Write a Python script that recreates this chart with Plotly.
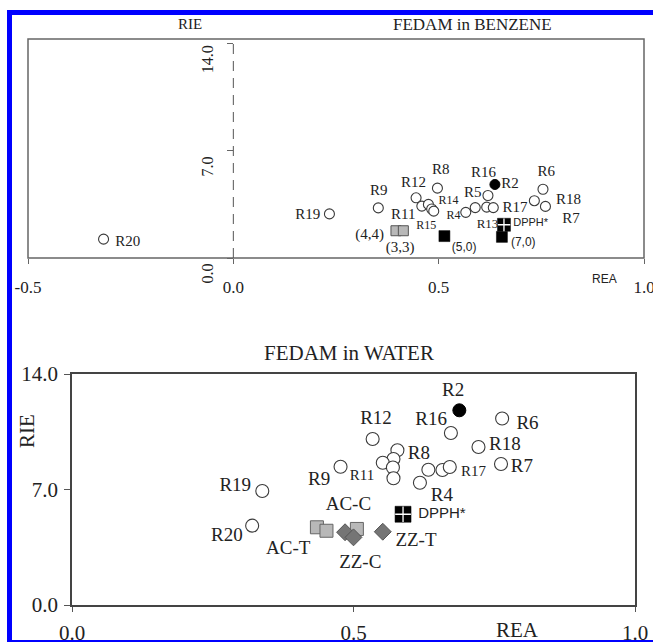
import plotly.graph_objects as go

W, H = 653, 642
SERIF = "Liberation Serif"
SANS = "Liberation Sans"

# ---------------- top panel data (FEDAM in BENZENE) ----------------
top_open_x = [-0.316, 0.234, 0.353, 0.445, 0.459, 0.475, 0.483, 0.488, 0.497, 0.566,
              0.589, 0.620, 0.617, 0.633, 0.754, 0.733, 0.760]
top_open_y = [1.23, 2.88, 3.27, 3.93, 3.39, 3.50, 3.20, 3.06, 4.56, 2.98,
              3.29, 4.08, 3.32, 3.29, 4.49, 3.74, 3.37]
top_fill_x = [0.637]
top_fill_y = [4.80]
top_black_x = [0.514, 0.654]
top_black_y = [1.43, 1.38]
top_dpph_x = [0.659]
top_dpph_y = [2.17]
top_gray_x = [0.396, 0.414]
top_gray_y = [1.78, 1.78]

top_lbl = ["R20", "R19", "R9", "R12", "R8", "R14", "R11", "R15", "R4", "R5", "R16", "R2",
           "R6", "R18", "R17", "R7", "R13", "DPPH*", "(4,4)", "(3,3)", "(5,0)", "(7,0)"]
top_lbl_x = [-0.257, 0.181, 0.354, 0.439, 0.505, 0.524, 0.414, 0.470, 0.536, 0.583, 0.609, 0.674,
             0.762, 0.816, 0.686, 0.822, 0.619, 0.724, 0.332, 0.406, 0.562, 0.706]
top_lbl_y = [1.04, 2.79, 4.36, 4.88, 5.70, 3.69, 2.79, 2.09, 2.72, 4.23, 5.53, 4.80,
             5.59, 3.80, 3.28, 2.53, 2.20, 2.29, 1.47, 0.63, 0.63, 0.95]
top_lbl_size = [15, 15, 15, 15, 15, 12, 15, 12, 12, 15, 15, 15,
                15, 15, 15, 15, 13, 11, 15, 15, 12, 12]
top_lbl_font = [SERIF] * 17 + [SANS, SERIF, SERIF, SANS, SANS]

# ---------------- bottom panel data (FEDAM in WATER) ----------------
bot_open_x = [0.764, 0.534, 0.673, 0.722, 0.762, 0.578, 0.571, 0.552, 0.570, 0.571,
              0.477, 0.633, 0.658, 0.671, 0.618, 0.338, 0.320]
bot_open_y = [11.30, 10.06, 10.42, 9.58, 8.55, 9.38, 8.85, 8.62, 8.33, 7.68,
              8.38, 8.20, 8.18, 8.36, 7.41, 6.91, 4.81]
bot_fill_x = [0.688]
bot_fill_y = [11.80]
bot_dpph_x = [0.588]
bot_dpph_y = [5.50]
bot_gray_x = [0.435, 0.452, 0.506]
bot_gray_y = [4.71, 4.50, 4.61]
bot_dia_x = [0.485, 0.500, 0.552]
bot_dia_y = [4.41, 4.10, 4.44]

bot_lbl = ["R2", "R12", "R16", "R6", "R8", "R18", "R17", "R7", "R11", "R9", "R4", "DPPH*",
           "ZZ-T", "ZZ-C", "AC-C", "AC-T", "R19", "R20"]
bot_lbl_x = [0.677, 0.540, 0.638, 0.809, 0.616, 0.769, 0.713, 0.799, 0.515, 0.439, 0.657, 0.657,
             0.611, 0.512, 0.491, 0.384, 0.290, 0.275]
bot_lbl_y = [12.93, 11.25, 11.17, 10.95, 9.15, 9.70, 8.02, 8.32, 7.78, 7.58, 6.61, 5.50,
             3.84, 2.53, 6.02, 3.39, 7.21, 4.14]
bot_lbl_size = [19, 19, 19, 19, 19, 19, 15, 19, 15, 19, 19, 15,
                19, 19, 19, 19, 19, 19]
bot_lbl_font = [SERIF] * 11 + [SANS] + [SERIF] * 6

top_ticks_x = [-0.5, 0.0, 0.5, 1.0]
top_ticks_y = [0, 7, 14]
bot_ticks_x = [0.0, 0.5, 1.0]
bot_ticks_y = [0, 7, 14]


def px_x(p):
    return p / W


def px_y(p):
    return 1 - p / H


fig = go.Figure()

OPEN_LINE = "#3a3a3a"


def add_panel(xa, ya, open_x, open_y, fill_x, fill_y, sq_x, sq_y, dpph_x, dpph_y,
              gray_x, gray_y, csize, sqsize, dsize, gsize):
    if gray_x:
        fig.add_trace(go.Scatter(x=gray_x, y=gray_y, mode="markers", xaxis=xa, yaxis=ya,
                                 marker=dict(symbol="square", size=gsize, color="#b8b8b8",
                                             line=dict(color="#555555", width=1))))
    fig.add_trace(go.Scatter(x=open_x, y=open_y, mode="markers", xaxis=xa, yaxis=ya,
                             marker=dict(symbol="circle", size=csize, color="white",
                                         line=dict(color=OPEN_LINE, width=1.1))))
    fig.add_trace(go.Scatter(x=fill_x, y=fill_y, mode="markers", xaxis=xa, yaxis=ya,
                             marker=dict(symbol="circle", size=csize, color="black",
                                         line=dict(color="black", width=1))))
    if sq_x:
        fig.add_trace(go.Scatter(x=sq_x, y=sq_y, mode="markers", xaxis=xa, yaxis=ya,
                                 marker=dict(symbol="square", size=sqsize, color="black",
                                             line=dict(color="black", width=0.5))))
    fig.add_trace(go.Scatter(x=dpph_x, y=dpph_y, mode="markers", xaxis=xa, yaxis=ya,
                             marker=dict(symbol="square", size=dsize, color="black",
                                         line=dict(color="black", width=0.5))))
    fig.add_trace(go.Scatter(x=dpph_x, y=dpph_y, mode="markers", xaxis=xa, yaxis=ya,
                             marker=dict(symbol="cross-thin-open", size=dsize * 0.7,
                                         color="white",
                                         line=dict(color="white", width=1.3))))


# top panel
add_panel("x", "y", top_open_x, top_open_y, top_fill_x, top_fill_y,
          top_black_x, top_black_y, top_dpph_x, top_dpph_y, top_gray_x, top_gray_y,
          csize=10, sqsize=11, dsize=13, gsize=10)
fig.add_trace(go.Scatter(x=top_lbl_x, y=top_lbl_y, text=top_lbl, mode="text",
                         xaxis="x", yaxis="y",
                         textfont=dict(family=top_lbl_font, size=top_lbl_size, color="#222")))

# bottom panel
fig.add_trace(go.Scatter(x=bot_gray_x, y=bot_gray_y, mode="markers", xaxis="x2", yaxis="y2",
                         marker=dict(symbol="square", size=13, color="#b8b8b8",
                                     line=dict(color="#666666", width=1))))
fig.add_trace(go.Scatter(x=bot_dia_x, y=bot_dia_y, mode="markers", xaxis="x2", yaxis="y2",
                         marker=dict(symbol="diamond", size=13, color="#757575",
                                     line=dict(color="#555555", width=1))))
add_panel("x2", "y2", bot_open_x, bot_open_y, bot_fill_x, bot_fill_y,
          [], [], bot_dpph_x, bot_dpph_y, [], [],
          csize=13, sqsize=13, dsize=16, gsize=13)
fig.add_trace(go.Scatter(x=bot_lbl_x, y=bot_lbl_y, text=bot_lbl, mode="text",
                         xaxis="x2", yaxis="y2",
                         textfont=dict(family=bot_lbl_font, size=bot_lbl_size, color="#222")))

TOP_X0, TOP_X1, TOP_Y0, TOP_Y1 = 28, 644, 258, 39
BOT_X0, BOT_X1, BOT_Y0, BOT_Y1 = 72, 635, 605, 374

fig.update_layout(
    width=W, height=H, margin=dict(l=0, r=0, t=0, b=0, pad=0), autosize=False,
    paper_bgcolor="white", plot_bgcolor="white", showlegend=False,
    xaxis=dict(domain=[px_x(TOP_X0), px_x(TOP_X1)], range=[-0.5, 1.0], anchor="y",
               automargin=False, ticklabeloverflow="allow",
               tickvals=top_ticks_x, ticktext=["-0.5", "0.0", "0.5", "1.0"],
               ticks="outside", ticklen=5, tickcolor="#666", showgrid=False, zeroline=False,
               showline=False, ticklabelstandoff=9,
               tickfont=dict(family=SERIF, size=17, color="#222")),
    yaxis=dict(domain=[px_y(TOP_Y0), px_y(TOP_Y1)], range=[0, 14.3], anchor="free",
               position=(233) / W, automargin=False, ticklabeloverflow="allow",
               tickvals=top_ticks_y, ticktext=["0.0", "7.0", "14.0"], tickangle=-90,
               ticks="outside", ticklen=6, tickcolor="#666", showgrid=False, zeroline=False,
               showline=False, ticklabelshift=18, ticklabelstandoff=8,
               tickfont=dict(family=SERIF, size=16, color="#222")),
    xaxis2=dict(domain=[px_x(BOT_X0), px_x(BOT_X1)], range=[0, 1.0], anchor="y2",
                automargin=False, ticklabeloverflow="allow",
                tickvals=bot_ticks_x, ticktext=["0.0", "0.5", "1.0"],
                ticks="outside", ticklen=5, tickcolor="#555", showgrid=False, zeroline=False,
                showline=True, mirror=True, linecolor="#444", linewidth=1.5,
                ticklabelstandoff=3,
                tickfont=dict(family=SERIF, size=21, color="#222")),
    yaxis2=dict(domain=[px_y(BOT_Y0), px_y(BOT_Y1)], range=[0, 14.0], anchor="x2",
                automargin=False, ticklabeloverflow="allow",
                tickvals=bot_ticks_y, ticktext=["0.0", "7.0", "14.0"],
                ticks="outside", ticklen=6, tickcolor="#555", showgrid=False, zeroline=False,
                showline=True, mirror=True, linecolor="#444", linewidth=1.5,
                ticklabelstandoff=2,
                tickfont=dict(family=SERIF, size=21, color="#222")),
)

shapes = [
    # top panel frame
    dict(type="rect", xref="x domain", yref="y domain", x0=0, x1=1, y0=0, y1=1,
         line=dict(color="#666666", width=1.5), layer="below"),
    # dashed vertical axis at x = 0
    dict(type="line", xref="x", yref="y domain", x0=0, x1=0, y0=0, y1=1,
         line=dict(color="#555555", width=1, dash="10px,7px")),
    # blue frame
    dict(type="rect", xref="paper", yref="paper", x0=px_x(7), x1=px_x(12), y0=0, y1=px_y(10),
         fillcolor="#0000ff", line=dict(width=0)),
    dict(type="rect", xref="paper", yref="paper", x0=px_x(7), x1=1, y0=px_y(15), y1=px_y(10),
         fillcolor="#0000ff", line=dict(width=0)),
    dict(type="rect", xref="paper", yref="paper", x0=px_x(7), x1=1, y0=px_y(642), y1=px_y(640),
         fillcolor="#0000ff", line=dict(width=0)),
]
fig.update_layout(shapes=shapes)

annotations = [
    dict(text="RIE", xref="paper", yref="paper", x=px_x(190), y=px_y(24), showarrow=False,
         font=dict(family=SERIF, size=15, color="#222"), xanchor="center", yanchor="middle"),
    dict(text="FEDAM in BENZENE", xref="paper", yref="paper", x=px_x(473), y=px_y(25),
         showarrow=False, font=dict(family=SERIF, size=17, color="#222"),
         xanchor="center", yanchor="middle"),
    dict(text="REA", xref="paper", yref="paper", x=px_x(604), y=px_y(279), showarrow=False,
         font=dict(family=SANS, size=12, color="#222"), xanchor="center", yanchor="middle"),
    dict(text="FEDAM in WATER", xref="paper", yref="paper", x=px_x(349), y=px_y(353),
         showarrow=False, font=dict(family=SERIF, size=21, color="#222"),
         xanchor="center", yanchor="middle"),
    dict(text="RIE", xref="paper", yref="paper", x=px_x(27), y=px_y(431), showarrow=False,
         textangle=-90, font=dict(family=SERIF, size=21, color="#222"),
         xanchor="center", yanchor="middle"),
    dict(text="REA", xref="paper", yref="paper", x=px_x(517), y=px_y(630), showarrow=False,
         font=dict(family=SERIF, size=21, color="#222"), xanchor="center", yanchor="middle"),
]
fig.update_layout(annotations=annotations)

fig.write_html("out.html")
